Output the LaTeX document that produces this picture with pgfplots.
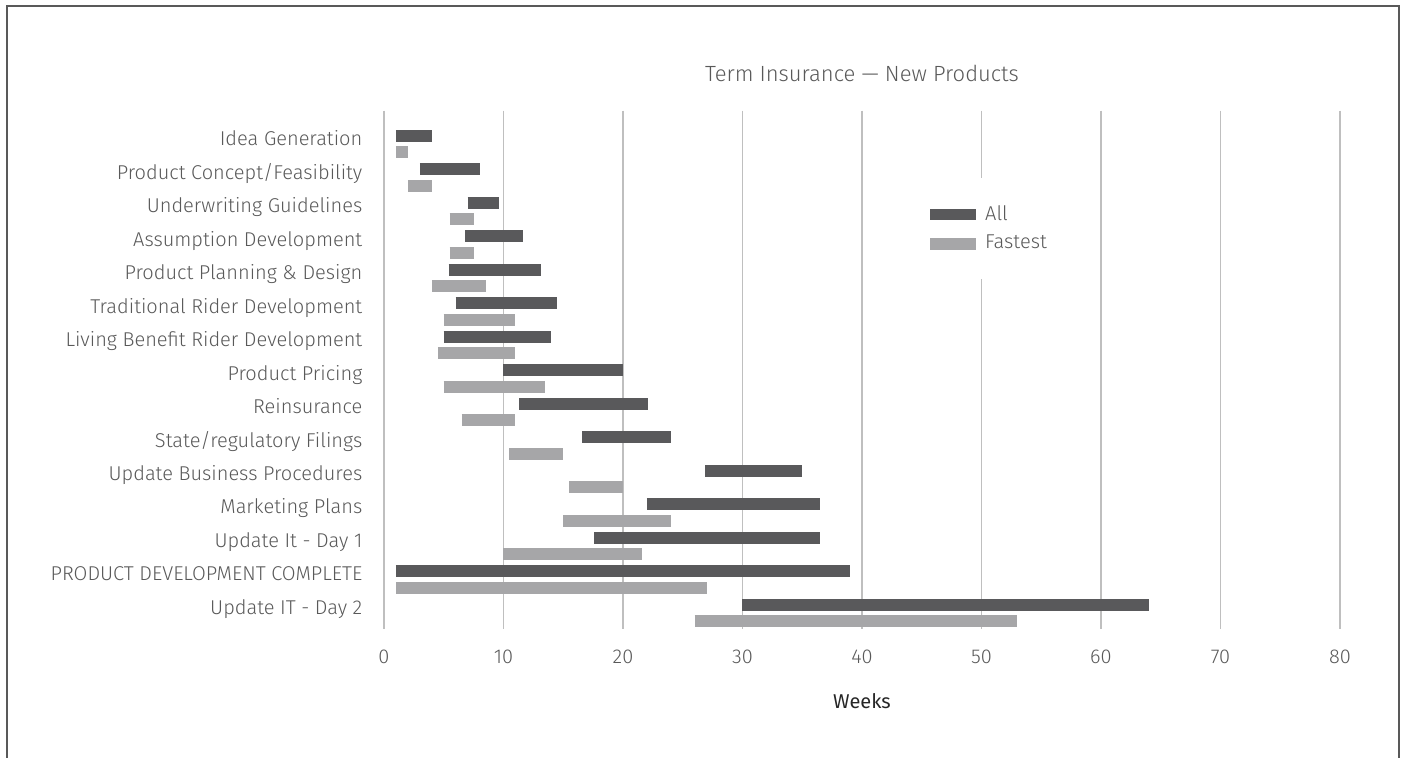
\documentclass[border=0pt]{standalone}
\usepackage{pgfplots}
\pgfplotsset{compat=1.18}
\usepackage{fontspec}
\setmainfont{Fira Sans Light}
\newfontfamily\regfont{Fira Sans}
\definecolor{allc}{RGB}{89,89,91}
\definecolor{fastc}{RGB}{166,166,168}
\definecolor{txtc}{RGB}{89,89,89}
\definecolor{gridc}{RGB}{191,191,191}
\definecolor{framec}{RGB}{89,89,89}
\begin{document}
\begin{tikzpicture}
\path[use as bounding box] (0,0) rectangle (702.5pt,378.5pt);
\draw[framec, line width=1pt] (3.35pt,-10pt) -- (3.35pt,375.5pt) -- (699.35pt,375.5pt) -- (699.35pt,-10pt);
\begin{axis}[
  scale only axis, width=478pt, height=259.3pt,
  at={(192pt,63.85pt)}, anchor=south west,
  xmin=0, xmax=80, ymin=-0.994, ymax=14.487, y dir=reverse,
  axis line style={draw=none}, major tick length=0pt, tick style={draw=none},
  xtick={0,10,...,80}, ytick={0,...,14},
  yticklabels={Idea Generation, Product Concept/Feasibility, Underwriting Guidelines, Assumption Development, Product Planning \& Design, Traditional Rider Development, Living Benefit Rider Development, Product Pricing, Reinsurance, State/regulatory Filings, Update Business Procedures, Marketing Plans, Update It - Day 1, PRODUCT DEVELOPMENT COMPLETE, Update IT - Day 2},
  /pgf/number format/assume math mode=true,
  xmajorgrids, grid style={gridc, line width=0.7pt},
  ticklabel style={font=\fontsize{10}{12}\selectfont, text=txtc, inner sep=0pt},
  yticklabel style={anchor=base east, xshift=-10.65pt, yshift=-0.75pt},
  xticklabel style={anchor=base, yshift=-17pt},
  title={Term Insurance — New Products},
  title style={at={(axis description cs:0.5,1)}, anchor=base, yshift=8.85pt, inner sep=0pt, font=\fontsize{11}{13}\selectfont, text=txtc},
  xlabel={Weeks},
  xlabel style={at={(axis description cs:0.5,0)}, anchor=base, yshift=-39.5pt, inner sep=0pt, font=\regfont\fontsize{10}{12}\selectfont, text={black!85}},
  legend style={at={(axis cs:45.36,1.015)}, anchor=north west, draw=none, fill=white, inner xsep=2pt, inner ysep=12pt, row sep=3pt, column sep=3pt, font=\fontsize{10}{12}\selectfont, text=txtc, nodes={inner sep=1.5pt}},
  legend cell align=left,
  unbounded coords=jump,
]
\addlegendimage{legend image code/.code={\fill[allc] (0pt,-2.65pt) rectangle (22.5pt,2.65pt);}}
\addlegendentry{All}
\addlegendimage{legend image code/.code={\fill[fastc] (0pt,-2.65pt) rectangle (22.5pt,2.65pt);}}
\addlegendentry{Fastest}
% All (start, end) per category
\addplot[forget plot, draw=allc, line width=6.15pt, line cap=butt, mark=none, yshift=4.15pt] coordinates {
(1,0) (4,0) (nan,nan)
(3,1) (8,1) (nan,nan)
(7,2) (9.6,2) (nan,nan)
(6.8,3) (11.6,3) (nan,nan)
(5.4,4) (13.1,4) (nan,nan)
(6,5) (14.5,5) (nan,nan)
(5,6) (14,6) (nan,nan)
(10,7) (20,7) (nan,nan)
(11.3,8) (22.1,8) (nan,nan)
(16.6,9) (24,9) (nan,nan)
(26.9,10) (35,10) (nan,nan)
(22,11) (36.5,11) (nan,nan)
(17.6,12) (36.5,12) (nan,nan)
(1,13) (39,13) (nan,nan)
(30,14) (64,14)
};
% Fastest (start, end) per category
\addplot[forget plot, draw=fastc, line width=6.15pt, line cap=butt, mark=none, yshift=-4.15pt] coordinates {
(1,0) (2,0) (nan,nan)
(2,1) (4,1) (nan,nan)
(5.5,2) (7.5,2) (nan,nan)
(5.5,3) (7.5,3) (nan,nan)
(4,4) (8.5,4) (nan,nan)
(5,5) (11,5) (nan,nan)
(4.5,6) (11,6) (nan,nan)
(5,7) (13.5,7) (nan,nan)
(6.5,8) (11,8) (nan,nan)
(10.5,9) (15,9) (nan,nan)
(15.5,10) (20,10) (nan,nan)
(15,11) (24,11) (nan,nan)
(10,12) (21.6,12) (nan,nan)
(1,13) (27,13) (nan,nan)
(26,14) (53,14)
};
\end{axis}
\end{tikzpicture}
\end{document}
